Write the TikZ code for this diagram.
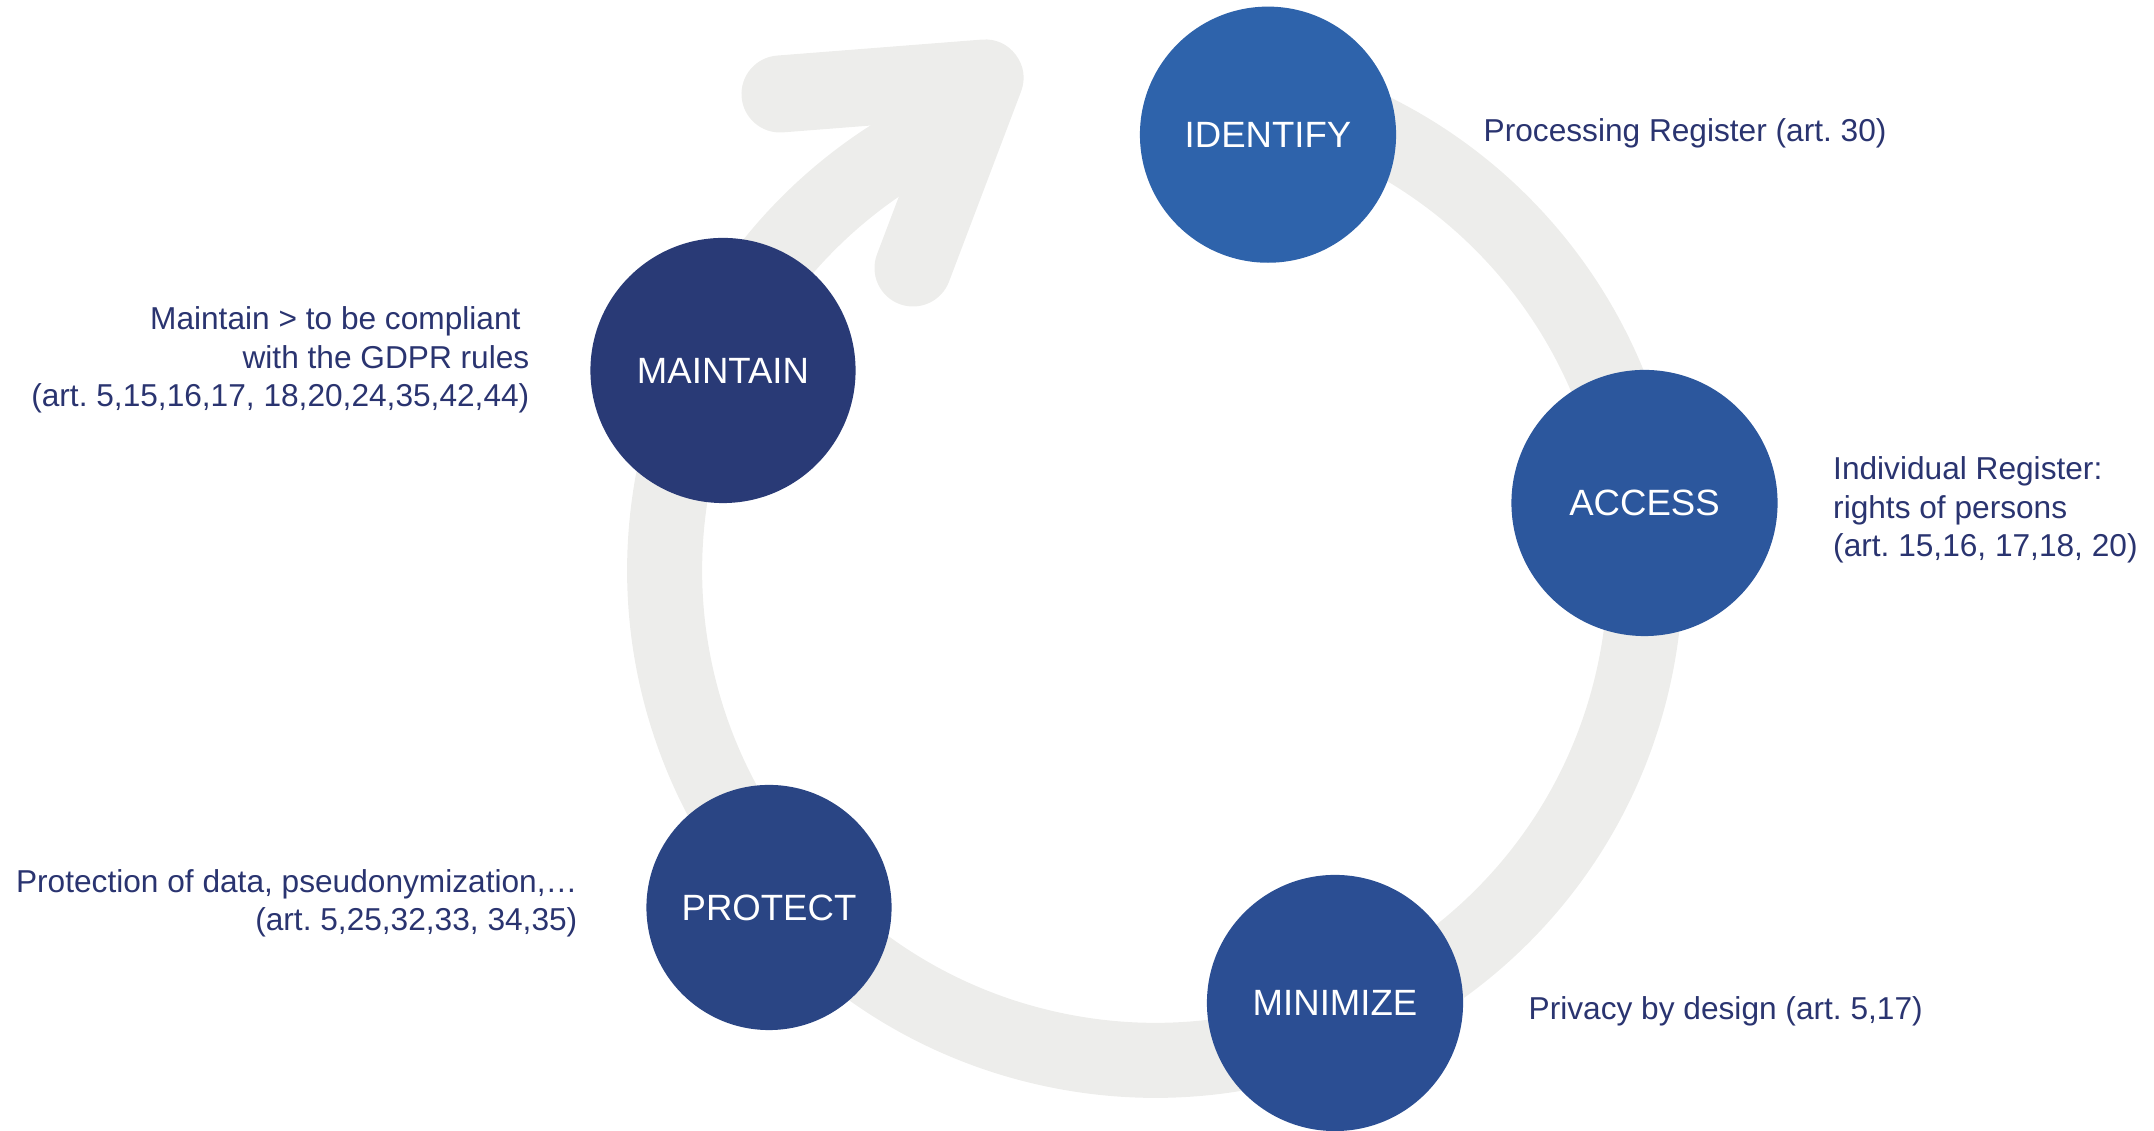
\documentclass[tikz,border=0pt]{standalone}
\usepackage{fontspec}
\setmainfont{Liberation Sans}
\usetikzlibrary{calc}
\definecolor{ringgray}{HTML}{EDEDEB}
\definecolor{cid}{HTML}{2E63AB}
\definecolor{cac}{HTML}{2C579D}
\definecolor{cmi}{HTML}{2B4E93}
\definecolor{cpr}{HTML}{2A4584}
\definecolor{cma}{HTML}{293A76}
\definecolor{textnavy}{HTML}{2A3470}
\frenchspacing
\begin{document}
\begin{tikzpicture}[x=0.01cm,y=0.01cm,
  stage/.style={circle, inner sep=0pt, text=white, font=\fontsize{10.4pt}{12pt}\selectfont},
  note/.style={inner sep=0pt, text=textnavy, font=\fontsize{9pt}{10.95pt}\selectfont},
  band/.style={draw=ringgray, line width=0.75cm},
]
\useasboundingbox (0,0) rectangle (2154,1131);
% the cycle ring
\coordinate (rc) at (1155,561);
\draw[band] ($(rc)+(78:4.9cm)$) arc[start angle=78,end angle=-246,radius=4.9cm];
% arrow head (chevron)
\coordinate (a1) at (780,1037);
\coordinate (tip) at (985,1053);
\coordinate (a2) at (913,863);
\draw[band, line width=0.77cm, line cap=round, line join=round] (a1) -- (tip) -- (a2);
% stages
\node[stage, fill=cid, minimum size=2.56cm] (identify) at (1268,996.3) {IDENTIFY};
\node[stage, fill=cac, minimum size=2.66cm] (access) at (1644.5,628) {ACCESS};
\node[stage, fill=cmi, minimum size=2.56cm] (minimize) at (1335,128) {MINIMIZE};
\node[stage, fill=cpr, minimum size=2.45cm] (protect) at (769,223.5) {PROTECT};
\node[stage, fill=cma, minimum size=2.65cm] (maintain) at (723,760.5) {MAINTAIN};
% notes (multi-line nodes: base anchor = baseline of the last line)
\node[note, anchor=base west] (tid) at (1483,989.3) {Processing Register (art. 30)};
\node[note, anchor=base west, align=left] (tac) at (1832.5,574) {Individual Register:\\rights of persons\\(art. 15,16, 17,18, 20)};
\node[note, anchor=base west] (tmi) at (1528,111) {Privacy by design (art. 5,17)};
\node[note, anchor=base east, align=right] (tpr) at (578,200.4) {Protection of data, pseudonymization,…\\(art. 5,25,32,33, 34,35)};
\node[note, anchor=base east, align=right] (tma) at (530,724) {Maintain > to be compliant\hspace*{0.278em}\\with the GDPR rules\\(art. 5,15,16,17, 18,20,24,35,42,44)};
\end{tikzpicture}
\end{document}
